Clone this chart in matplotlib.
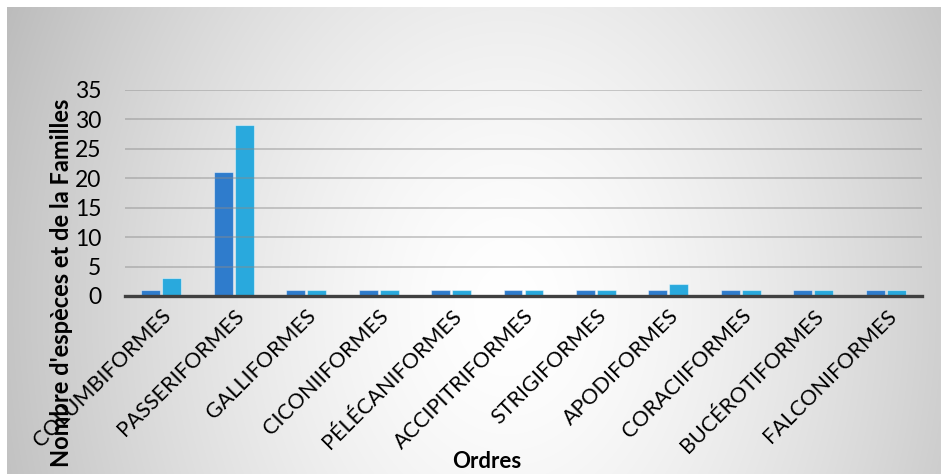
import numpy as np
import matplotlib
matplotlib.use("Agg")
import matplotlib.pyplot as plt

plt.rcParams['font.family'] = ['Lato', 'DejaVu Sans']

orders = ["COLUMBIFORMES", "PASSERIFORMES", "GALLIFORMES", "CICONIIFORMES",
          "PÉLÉCANIFORMES", "ACCIPITRIFORMES", "STRIGIFORMES", "APODIFORMES",
          "CORACIIFORMES", "BUCÉROTIFORMES", "FALCONIFORMES"]
familles = [1, 21, 1, 1, 1, 1, 1, 1, 1, 1, 1]
especes = [3, 29, 1, 1, 1, 1, 1, 2, 1, 1, 1]
yticks = [0, 5, 10, 15, 20, 25, 30, 35]

W, H = 941, 474
fig = plt.figure(figsize=(W / 100, H / 100), dpi=100)
fig.patch.set_facecolor("white")

# soft radial background panel
bg = fig.add_axes([7 / W, 0, (W - 7) / W, (H - 7) / H])
bg.set_axis_off()
nx, ny = 934, 467
xx, yy = np.meshgrid(np.arange(nx), np.arange(ny))
cx, cy = 500, 300
d = np.sqrt(((xx - cx) / 500) ** 2 + ((yy - cy) / 650) ** 2)
d = np.clip(d, 0, 1.1)
val = 255 - 58 * d ** 1.5
img = np.clip(val, 0, 255) / 255.0
bg.imshow(np.dstack([img, img, img]), aspect="auto", extent=(0, nx, ny, 0),
          interpolation="bilinear")
bg.set_xlim(0, nx)
bg.set_ylim(ny, 0)

ax = fig.add_axes([125 / W, (H - 296) / H, (922 - 125) / W, (296 - 90) / H])
ax.patch.set_alpha(0)

x = np.arange(len(orders))
bw = 0.262
off = 0.145
ax.bar(x - off, familles, width=bw, color="#2f7ccc",
       edgecolor=(1, 1, 1, 0.45), linewidth=0.8, zorder=2)
ax.bar(x + off, especes, width=bw, color="#29a9dd",
       edgecolor=(1, 1, 1, 0.45), linewidth=0.8, zorder=2)

ax.set_xlim(-0.5, len(orders) - 0.5)
ax.set_ylim(0, 35)
ax.set_yticks(yticks)
for t in yticks[1:]:
    ax.axhline(t, color="#8a8a8a", alpha=0.5, linewidth=1.2, zorder=3)

for s in ["top", "right", "left"]:
    ax.spines[s].set_visible(False)
ax.spines["bottom"].set_color("#404040")
ax.spines["bottom"].set_linewidth(2.4)
ax.spines["bottom"].set_zorder(4)

ax.tick_params(axis="y", length=0, pad=17, labelsize=16.5, labelcolor="black")
ax.tick_params(axis="x", length=0, pad=7)
ax.set_xticks(x)
ax.set_xticklabels(orders, rotation=45, ha="right", va="top",
                   rotation_mode="anchor", fontsize=15.5)

fig.text(62 / W, 1 - 283 / H, "Nombre d'espèces et de la Familles",
         rotation=90, ha="center", va="center", fontsize=17, fontweight="bold")
fig.text(487 / W, 1 - 462 / H, "Ordres", ha="center", va="center",
         fontsize=16, fontweight="bold")

fig.savefig("out.png", dpi=100)
